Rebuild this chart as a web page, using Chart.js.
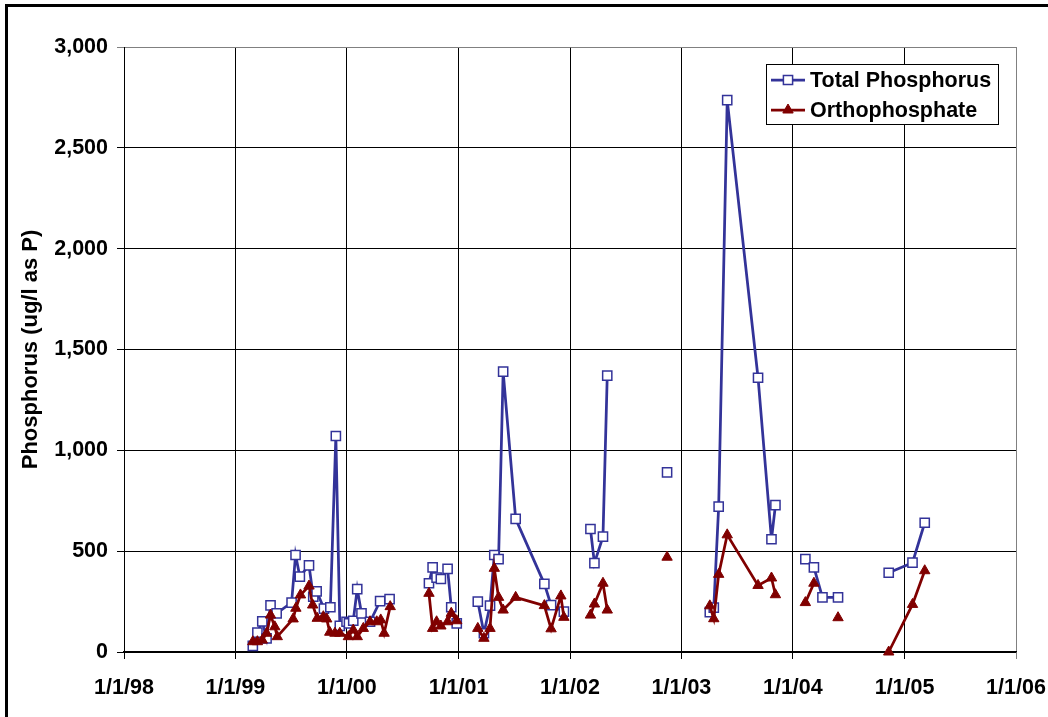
<!DOCTYPE html>
<html><head><meta charset="utf-8">
<script src="https://cdn.jsdelivr.net/npm/chart.js@4.4.0/dist/chart.umd.min.js"></script>
<style>
html,body{margin:0;padding:0;background:#fff;overflow:hidden;width:1048px;height:717px}
#frame{position:absolute;left:5px;top:4px;width:1100px;height:800px;border:3px solid #000;box-sizing:border-box}
#wrap{position:absolute;left:0;top:0;width:1048px;height:717px}
</style></head><body>
<div id="frame"></div>
<div id="wrap"><canvas id="c"></canvas></div>
<script>
// Total Phosphorus (null = break in line)
const tpDates = ['1999-02-27','1999-03-14','1999-03-30','1999-04-13','1999-04-26','1999-05-16','1999-07-04','1999-07-17','1999-07-31','1999-08-30','1999-09-13','1999-09-24','1999-10-18','1999-11-08','1999-11-26','1999-12-09','1999-12-31','2000-01-08','2000-01-22','2000-02-04','2000-02-18','2000-03-17','2000-04-19','2000-05-20','2000-07-15',
 '2000-09-26','2000-10-08','2000-10-21','2000-11-04','2000-11-26','2000-12-08','2000-12-26','2001-02-01',
 '2001-03-05','2001-03-25','2001-04-14','2001-04-28','2001-05-12','2001-05-27','2001-07-07','2001-10-09','2001-10-31','2001-12-12','2002-02-01',
 '2002-03-09','2002-03-22','2002-04-19','2002-05-03','2002-08-01','2002-11-15','2003-02-01',
 '2003-04-04','2003-04-17','2003-05-03','2003-05-31','2003-09-09','2003-10-23','2003-11-05','2004-01-15',
 '2004-02-11','2004-03-10','2004-04-07','2004-05-28','2004-08-01',
 '2004-11-10','2005-01-27','2005-03-08'];
const tpValues = [30,96,152,68,231,192,245,481,374,430,274,301,215,222,1071,130,150,142,155,312,192,150,252,262,null,
 341,420,369,362,412,222,142,null,
 250,93,230,481,461,1390,660,338,232,200,null,
 610,441,572,1370,null,891,null,
 198,220,721,2737,1360,559,728,null,
 461,420,271,271,null,
 393,443,641];
// Orthophosphate
const opDates = ['1999-02-27','1999-03-14','1999-03-30','1999-04-13','1999-04-26','1999-05-10','1999-05-18','1999-07-09','1999-07-18','1999-08-02','1999-08-30','1999-09-11','1999-09-26','1999-10-16','1999-10-27','1999-11-06','1999-11-23','1999-12-09','2000-01-06','2000-01-22','2000-02-04','2000-02-24','2000-03-17','2000-04-08','2000-04-21','2000-05-02','2000-05-22','2000-07-15',
 '2000-09-26','2000-10-08','2000-10-21','2000-11-04','2000-11-26','2000-12-08','2000-12-26','2001-02-01',
 '2001-03-05','2001-03-25','2001-04-14','2001-04-28','2001-05-12','2001-05-27','2001-07-07','2001-10-09','2001-10-31','2001-12-02','2001-12-12','2002-02-01',
 '2002-03-09','2002-03-22','2002-04-19','2002-05-03','2002-08-01','2002-11-15','2003-02-01',
 '2003-04-04','2003-04-17','2003-05-03','2003-05-31','2003-09-09','2003-10-23','2003-11-05','2004-01-15',
 '2004-02-11','2004-03-10','2004-04-07','2004-05-28','2004-08-01',
 '2004-11-10','2005-01-27','2005-03-08'];
const opValues = [51,51,59,93,183,125,76,164,217,283,327,233,167,175,164,98,93,93,76,109,76,117,150,150,159,93,225,null,
 291,117,150,129,150,192,155,null,
 117,68,117,415,271,208,271,230,115,278,172,null,
 183,238,341,208,null,470,null,
 229,165,385,581,330,367,284,null,
 245,341,null,170,null,
 0,236,403];
const tickYears = [1998,1999,2000,2001,2002,2003,2004,2005,2006];
const xTickLabels = ['1/1/98','1/1/99','1/1/00','1/1/01','1/1/02','1/1/03','1/1/04','1/1/05','1/1/06'];
const yTickValues = [0,500,1000,1500,2000,2500,3000];

const toPts = (d, v) => d.map((s, i) => ({x: Date.parse(s + 'T00:00:00Z'), y: v[i]}));
const FONT = 'Liberation Sans, Arial, sans-serif';
const TICK_SIZE = 21.5;

const legendPlugin = {
  id: 'boxLegend',
  afterDraw(chart) {
    const ctx = chart.ctx;
    ctx.save();
    const bx = 766, by = 64, bw = 232, bh = 60;
    ctx.fillStyle = '#fff'; ctx.fillRect(bx, by, bw, bh);
    ctx.strokeStyle = '#000'; ctx.lineWidth = 1; ctx.strokeRect(bx + 0.5, by + 0.5, bw, bh);
    chart.data.datasets.forEach((ds, i) => {
      const y = by + 16 + i * 30;
      ctx.strokeStyle = ds.borderColor; ctx.lineWidth = ds.borderWidth;
      ctx.beginPath(); ctx.moveTo(bx + 5, y); ctx.lineTo(bx + 39, y); ctx.stroke();
      ctx.fillStyle = ds.pointBackgroundColor; ctx.strokeStyle = ds.pointBorderColor; ctx.lineWidth = ds.pointBorderWidth;
      Chart.helpers.drawPoint(ctx, {pointStyle: ds.pointStyle, radius: ds.pointRadius, borderWidth: ds.pointBorderWidth, rotation: 0}, bx + 22, y);
      ctx.fillStyle = '#000'; ctx.font = 'bold ' + TICK_SIZE + 'px ' + FONT; ctx.textBaseline = 'middle'; ctx.textAlign = 'left';
      ctx.fillText(ds.label, bx + 44, y + 1);
    });
    ctx.restore();
  }
};

new Chart(document.getElementById('c'), {
  type: 'line',
  data: {
    datasets: [
      {label: 'Total Phosphorus', data: toPts(tpDates, tpValues), borderColor: '#333399', borderWidth: 2.75,
       pointStyle: 'rect', pointRadius: 6.5, pointBackgroundColor: '#fff', pointBorderColor: '#333399', pointBorderWidth: 1.5,
       tension: 0, spanGaps: false, clip: false, order: 2},
      {label: 'Orthophosphate', data: toPts(opDates, opValues), borderColor: '#800000', borderWidth: 2.75,
       pointStyle: 'triangle', pointRadius: 6, pointBackgroundColor: '#800000', pointBorderColor: '#800000', pointBorderWidth: 1,
       tension: 0, spanGaps: false, clip: false, order: 1}
    ]
  },
  options: {
    responsive: true, maintainAspectRatio: false, animation: false,
    layout: {padding: {left: 0, right: 32, top: 47, bottom: 0}},
    plugins: {legend: {display: false}, tooltip: {enabled: false}},
    scales: {
      x: {
        type: 'linear', min: Date.UTC(1998, 0, 1), max: Date.UTC(2006, 0, 1),
        afterBuildTicks: s => { s.ticks = tickYears.map(y => ({value: Date.UTC(y, 0, 1)})); },
        afterFit: s => { s.height = 65; s.paddingLeft = 0; s.paddingRight = 0; },
        ticks: {autoSkip: false, maxRotation: 0, padding: 16, color: '#000', font: {family: FONT, size: TICK_SIZE, weight: 'bold'},
          callback: v => xTickLabels[tickYears.indexOf(new Date(v).getUTCFullYear())]},
        grid: {color: c => (c.index === tickYears.length - 1 ? '#808080' : '#000'), lineWidth: 1, tickLength: 7},
        border: {color: '#000', width: 1.5}
      },
      y: {
        min: 0, max: 3000,
        afterBuildTicks: s => { s.ticks = yTickValues.map(v => ({value: v})); },
        afterFit: s => { s.width = 124; s.paddingTop = 0; s.paddingBottom = 0; },
        ticks: {padding: 9, color: '#000', font: {family: FONT, size: TICK_SIZE, weight: 'bold'},
          callback: v => v.toLocaleString('en-US')},
        grid: {color: c => (c.tick && c.tick.value === 3000 ? '#808080' : '#000'), lineWidth: 1, tickLength: 7},
        border: {color: '#000', width: 1},
        title: {display: true, text: 'Phosphorus (ug/l as P)', color: '#000', font: {family: FONT, size: 22, weight: 'bold'},
          padding: {top: 18, bottom: 0}}
      }
    }
  },
  plugins: [legendPlugin]
});
</script>
</body></html>
